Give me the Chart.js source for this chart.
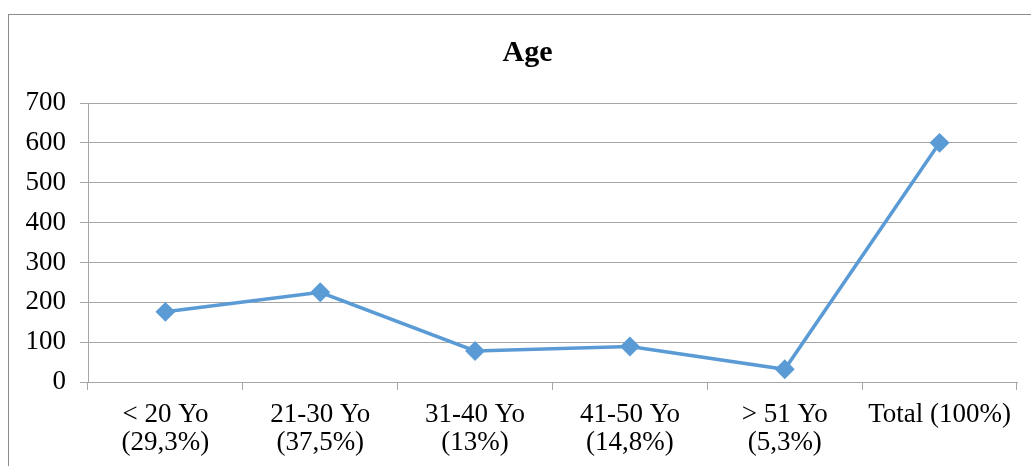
<!DOCTYPE html>
<html>
<head>
<meta charset="utf-8">
<script src="https://cdn.jsdelivr.net/npm/chart.js@4"></script>
<style>
  html, body { margin: 0; padding: 0; background: #fff; overflow: hidden; }
  #wrap { position: relative; width: 1031px; height: 466px; }
  #frame { position: absolute; left: 8px; top: 14px; width: 1040px; height: 470px; border: 1px solid #8c8c8c; box-sizing: border-box; }
  canvas { position: absolute; left: 0; top: 0; }
</style>
</head>
<body>
<div id="wrap">
  <div id="frame"></div>
  <canvas id="myChart" width="1031" height="466"></canvas>
</div>
<script>
const labels = [["< 20 Yo", "(29,3%)"], ["21-30 Yo", "(37,5%)"], ["31-40 Yo", "(13%)"], ["41-50 Yo", "(14,8%)"], ["> 51 Yo", "(5,3%)"], "Total (100%)"];
const counts = [176, 225, 78, 89, 32, 600];
const yTicks = [0, 100, 200, 300, 400, 500, 600, 700];

const gridCol = "#a6a6a6";
const fnt = "'Liberation Serif', 'Times New Roman', serif";

// move the title a bit to the right, like in the original
const titleShift = {
  id: "titleShift",
  afterLayout(chart) {
    const t = chart.titleBlock;
    if (t) { t.left += 19; t.right += 19; }
  }
};

new Chart("myChart", {
  type: "line",
  data: {
    labels: labels,
    datasets: [{
      data: counts,
      borderColor: "#5b9bd5",
      backgroundColor: "#5b9bd5",
      borderWidth: 3.5,
      pointStyle: "rectRot",
      pointRadius: 7.5,
      pointHoverRadius: 7.5,
      tension: 0
    }]
  },
  options: {
    responsive: false,
    animation: false,
    layout: { padding: { left: 0, right: 14, top: 0, bottom: 0 } },
    plugins: {
      legend: { display: false },
      tooltip: { enabled: false },
      title: {
        display: true,
        text: "Age",
        color: "#000",
        font: { family: fnt, size: 30, weight: "bold", lineHeight: 1.2 },
        padding: { top: 35, bottom: 32 }
      }
    },
    scales: {
      x: {
        offset: true,
        grid: { display: true, drawOnChartArea: false, drawTicks: true, tickLength: 8, color: gridCol, offset: true },
        border: { color: gridCol, width: 1 },
        ticks: { color: "#000", font: { family: fnt, size: 27, lineHeight: 1.07 }, padding: 10, maxRotation: 0, autoSkip: false },
        afterFit: function (s) { s.height = 84; }
      },
      y: {
        min: 0,
        max: 700,
        afterBuildTicks: function (s) { s.ticks = yTicks.map(v => ({ value: v })); },
        grid: { color: gridCol, tickLength: 8, drawTicks: true },
        border: { color: gridCol, width: 1 },
        ticks: { color: "#000", font: { family: fnt, size: 27 }, padding: 14 },
        afterFit: function (s) { s.width = 88; }
      }
    }
  },
  plugins: [titleShift]
});
</script>
</body>
</html>
